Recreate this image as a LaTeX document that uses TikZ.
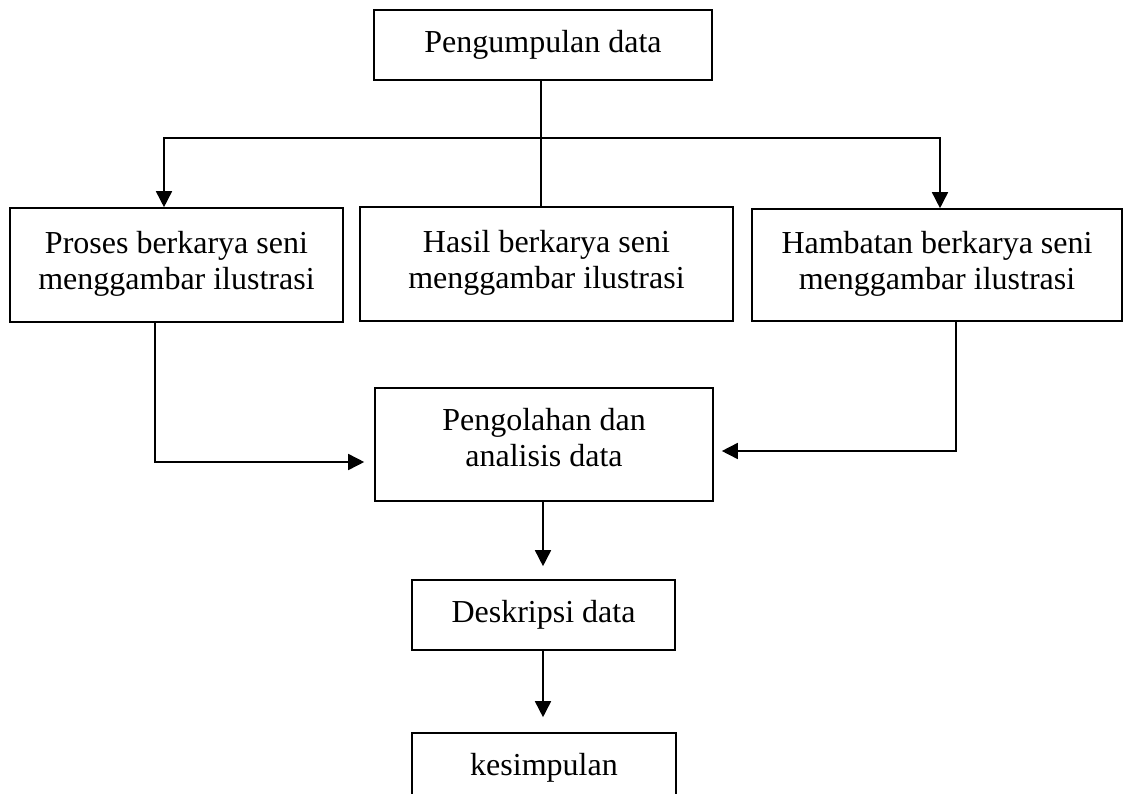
\documentclass[tikz,border=0pt]{standalone}
\usepackage{fontspec}
\setmainfont{Liberation Serif}
\usetikzlibrary{arrows.meta}

% extra depth under the last line, lifts the text inside a box
\newcommand{\naik}[1]{\rule[-#1pt]{0pt}{0pt}}

\begin{document}
\begin{tikzpicture}[x=1pt, y=-1pt,
    kotak/.style={draw, line width=1.6pt, align=center, inner sep=0pt,
        font=\fontsize{32}{36}\selectfont},
    alur/.style={line width=1.6pt, -{Triangle[length=16pt, width=16pt]}},
    garis/.style={line width=1.6pt}]
    \useasboundingbox (0,0) rectangle (1124,794);

    % ---------------- BOXES ---------------- %
    \node[kotak, minimum width=338pt, minimum height=70pt] (kumpul) at (543,45) {Pengumpulan data};

    \node[kotak, minimum width=333pt, minimum height=114pt] (proses) at (176.5,265)
        {Proses berkarya seni\\menggambar ilustrasi\naik{10}};
    \node[kotak, minimum width=373pt, minimum height=114pt] (hasil) at (546.5,264)
        {Hasil berkarya seni\\menggambar ilustrasi\naik{10}};
    \node[kotak, minimum width=370pt, minimum height=112pt] (hambat) at (937,265)
        {Hambatan berkarya seni\\menggambar ilustrasi\naik{10}};

    \node[kotak, minimum width=338pt, minimum height=113pt] (olah) at (544,444.5)
        {Pengolahan dan\\analisis data\naik{14}};
    \node[kotak, minimum width=263pt, minimum height=70pt] (deskripsi) at (543.5,615) {Deskripsi data};
    \node[kotak, minimum width=264pt, minimum height=70pt] (simpul) at (544,768) {kesimpulan};

    % ---------------- CONNECTORS ---------------- %
    \coordinate (cabang) at (541,138);
    \draw[garis] ([xshift=-2pt]kumpul.south) -- ([xshift=-5.5pt]hasil.north);
    \draw[alur] (cabang) -| ([xshift=-12.5pt]proses.north);
    \draw[alur] (cabang) -| ([xshift=3pt]hambat.north);

    \draw[alur, shorten >=10pt] ([xshift=-21.5pt]proses.south) |- ([yshift=-17.5pt]olah.west);
    \draw[alur, shorten >=8pt] ([xshift=19pt]hambat.south) |- ([yshift=-6.5pt]olah.east);

    \draw[alur, shorten >=13pt] ([xshift=-1pt]olah.south) -- ([xshift=-0.5pt]deskripsi.north);
    \draw[alur, shorten >=15pt] ([xshift=-0.5pt]deskripsi.south) -- ([xshift=-1pt]simpul.north);
\end{tikzpicture}
\end{document}
